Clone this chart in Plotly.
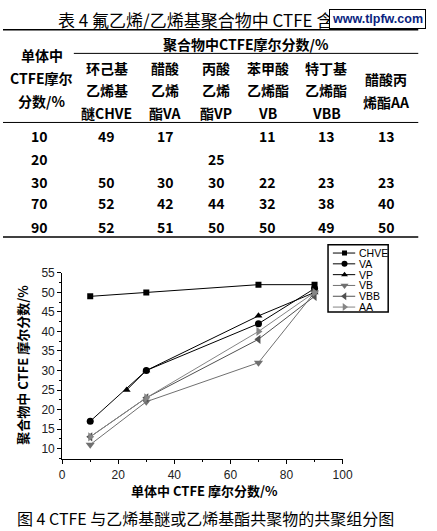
import plotly.graph_objects as go

W, H = 437, 531

# ---------------- table data ----------------
table_title = "表 4 氟乙烯/乙烯基聚合物中 CTFE 含量"
row_header = ["单体中", "CTFE摩尔", "分数/%"]
group_header = "聚合物中CTFE摩尔分数/%"
col_headers = [
    ["环己基", "乙烯基", "醚CHVE"],
    ["醋酸", "乙烯", "酯VA"],
    ["丙酸", "乙烯", "酯VP"],
    ["苯甲酸", "乙烯酯", "VB"],
    ["特丁基", "乙烯酯", "VBB"],
    ["醋酸丙", "烯酯AA"],
]
monomer_frac = [10, 20, 30, 70, 90]
tbl_chve = [49, None, 50, 52, 52]
tbl_va = [17, None, 30, 42, 51]
tbl_vp = [None, 25, 30, 44, 50]
tbl_vb = [11, None, 22, 32, 50]
tbl_vbb = [13, None, 23, 38, 49]
tbl_aa = [13, None, 23, 40, 50]

# ---------------- chart data ----------------
series_names = ["CHVE", "VA", "VP", "VB", "VBB", "AA"]
x_chve = [10, 30, 70, 90]
y_chve = [49, 50, 52, 52]
x_va = [10, 30, 70, 90]
y_va = [17, 30, 42, 51]
x_vp = [23, 30, 70, 90]
y_vp = [25, 30, 44, 50]
x_vb = [10, 30, 70, 90]
y_vb = [11, 22, 32, 50]
x_vbb = [10, 30, 70, 90]
y_vbb = [13, 23, 38, 49]
x_aa = [10, 30, 70, 90]
y_aa = [13, 23, 40, 50]

x_title = "单体中 CTFE 摩尔分数/%"
y_title = "聚合物中 CTFE 摩尔分数/%"
caption = "图 4 CTFE 与乙烯基醚或乙烯基酯共聚物的共聚组分图"
watermark = "www.tlpfw.com"


def px(x):
    return x / W


def py(y):
    return 1 - y / H


CJK = "Noto Sans CJK SC"
NARROW = "Liberation Sans Narrow, Arial Narrow, " + CJK
SANS = "Liberation Sans, Arial, " + CJK

fig = go.Figure()

styles = [
    ("square", "#000000", 6),
    ("circle", "#000000", 7),
    ("triangle-up", "#000000", 7),
    ("triangle-down", "#707070", 8),
    ("triangle-left", "#505050", 8),
    ("triangle-right", "#858585", 8),
]
xs = [x_chve, x_va, x_vp, x_vb, x_vbb, x_aa]
ys = [y_chve, y_va, y_vp, y_vb, y_vbb, y_aa]
for name, xv, yv, (sym, c, ms) in zip(series_names, xs, ys, styles):
    fig.add_trace(go.Scatter(
        x=xv, y=yv, name=name, mode="lines+markers", showlegend=False,
        line=dict(color=c, width=1),
        marker=dict(symbol=sym, color=c, size=ms),
        xaxis="x", yaxis="y",
    ))

# manual legend on its own small axis (legend units: x in px offset, y item index)
for i, (name, (sym, c, ms)) in enumerate(zip(series_names, styles)):
    fig.add_trace(go.Scatter(
        x=[5, 28], y=[i, i], mode="lines", showlegend=False, hoverinfo="skip",
        line=dict(color=c, width=1), xaxis="x2", yaxis="y2"))
    fig.add_trace(go.Scatter(
        x=[17], y=[i], mode="markers", showlegend=False, hoverinfo="skip",
        marker=dict(symbol=sym, color=c, size=ms - 1), xaxis="x2", yaxis="y2"))

ann = []
shapes = []

for i, name in enumerate(series_names):
    ann.append(dict(x=30, y=i, xref="x2", yref="y2", text=name, showarrow=False,
                    xanchor="left", yanchor="middle",
                    font=dict(size=10.5, family=SANS, color="#000")))


def text(x, y, s, size, family=CJK, color="#000", bold=False, xanchor="center"):
    if bold:
        s = "<b>" + s + "</b>"
    ann.append(dict(x=px(x), y=py(y), xref="paper", yref="paper", text=s,
                    showarrow=False, xanchor=xanchor, yanchor="middle",
                    font=dict(size=size, family=family, color=color)))


def hline(x0, x1, y, w=1.5):
    shapes.append(dict(type="line", xref="paper", yref="paper",
                       x0=px(x0), x1=px(x1), y0=py(y), y1=py(y),
                       line=dict(color="#000", width=w)))


# table title
text(207, 13, table_title, 17, family=CJK)
# rules
hline(0, 428, 23)
hline(73, 428, 47, 1)
hline(0, 428, 117, 1)
hline(0, 428, 233)

# row header
for i, s in enumerate(row_header):
    text(40, 49 + i * 23, s, 14, family=NARROW, bold=True)
text(250, 38, group_header, 14, family=NARROW, bold=True)

col_x = [107, 167, 220, 273, 333, 395]
for cx, hdr in zip(col_x, col_headers):
    ys_h = [62, 84, 107] if len(hdr) == 3 else [73, 96]
    for yy, s in zip(ys_h, hdr):
        text(cx, yy, s, 14, family=NARROW, bold=True)

row_y = [131, 154, 177, 199, 223]
cols = [tbl_chve, tbl_va, tbl_vp, tbl_vb, tbl_vbb, tbl_aa]
for r, (ry, m) in enumerate(zip(row_y, monomer_frac)):
    text(38, ry, str(m), 14, family=NARROW, bold=True)
    for cx, col in zip(col_x, cols):
        v = col[r]
        if v is not None:
            text(cx, ry, str(v), 14, family=NARROW, bold=True)

# watermark (boxed annotation drawn over the title)
ann.append(dict(x=px(385.5), y=py(12), xref="paper", yref="paper",
                text="<b>" + watermark + "</b>", showarrow=False,
                xanchor="center", yanchor="middle",
                bgcolor="#fff", bordercolor="#000", borderwidth=1, borderpad=2,
                font=dict(size=12.5, family=SANS, color="#0a1f80")))

# legend box
shapes.append(dict(type="rect", xref="paper", yref="paper",
                   x0=px(335), x1=px(397), y0=py(309), y1=py(241),
                   line=dict(color="#000", width=1.5), layer="above"))

# axis titles
text(208, 490, "<b>" + x_title + "</b>", 13, family=NARROW)
ann.append(dict(x=px(20), y=py(362), xref="paper", yref="paper",
                text="<b>" + y_title + "</b>", showarrow=False, textangle=-90,
                xanchor="center", yanchor="middle",
                font=dict(size=13, family=NARROW, color="#000")))
# caption
text(209, 518, caption, 16, family=CJK)

fig.update_layout(
    width=W, height=H,
    margin=dict(l=0, r=0, t=0, b=0),
    paper_bgcolor="#fff", plot_bgcolor="rgba(0,0,0,0)",
    showlegend=False,
    annotations=ann,
    shapes=shapes,
    xaxis=dict(domain=[px(61), px(350)], range=[0, 100], showgrid=False,
               zeroline=False, showline=True, linecolor="#000", linewidth=1,
               ticks="outside", ticklen=4, tickcolor="#000", dtick=20,
               tickfont=dict(size=12, family=SANS, color="#222"),
               minor=dict(ticks="outside", ticklen=2, dtick=10, tickcolor="#000"),
               anchor="y"),
    yaxis=dict(domain=[py(458.5), py(269.5)], range=[7.2, 55], showgrid=False,
               zeroline=False, showline=True, linecolor="#000", linewidth=1,
               ticks="outside", ticklen=4, tickcolor="#000", dtick=5, tick0=0,
               tickfont=dict(size=12, family=SANS, color="#222"),
               minor=dict(ticks="outside", ticklen=2, dtick=2.5, tickcolor="#000"),
               anchor="x"),
    xaxis2=dict(domain=[px(335), px(397)], range=[0, 62], visible=False,
                anchor="y2", fixedrange=True),
    yaxis2=dict(domain=[py(309), py(241)], range=[5.45, -0.76], visible=False,
                anchor="x2", fixedrange=True),
)

fig.write_html("out.html", config={"displayModeBar": False},
               post_script="document.body.style.margin='0';")
